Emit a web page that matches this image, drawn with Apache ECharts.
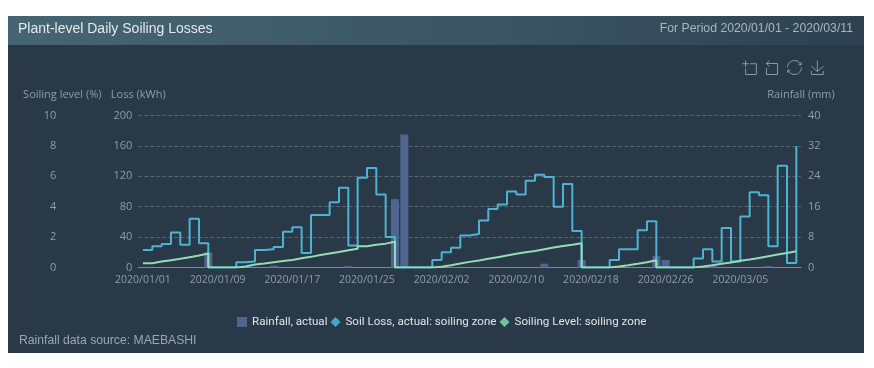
<!DOCTYPE html>
<html>
<head>
<meta charset="utf-8">
<style>
html, body { margin: 0; padding: 0; background: #fff; }
#result { width: 874px; height: 368px; }
</style>
<script src="https://cdn.jsdelivr.net/npm/echarts@6/dist/echarts.min.js"></script>
</head>
<body>
<div id="result"></div>
<script>
var dates = [
    '2020/01/01','2020/01/02','2020/01/03','2020/01/04','2020/01/05','2020/01/06','2020/01/07','2020/01/08',
    '2020/01/09','2020/01/10','2020/01/11','2020/01/12','2020/01/13','2020/01/14','2020/01/15','2020/01/16',
    '2020/01/17','2020/01/18','2020/01/19','2020/01/20','2020/01/21','2020/01/22','2020/01/23','2020/01/24',
    '2020/01/25','2020/01/26','2020/01/27','2020/01/28','2020/01/29','2020/01/30','2020/01/31','2020/02/01',
    '2020/02/02','2020/02/03','2020/02/04','2020/02/05','2020/02/06','2020/02/07','2020/02/08','2020/02/09',
    '2020/02/10','2020/02/11','2020/02/12','2020/02/13','2020/02/14','2020/02/15','2020/02/16','2020/02/17',
    '2020/02/18','2020/02/19','2020/02/20','2020/02/21','2020/02/22','2020/02/23','2020/02/24','2020/02/25',
    '2020/02/26','2020/02/27','2020/02/28','2020/02/29','2020/03/01','2020/03/02','2020/03/03','2020/03/04',
    '2020/03/05','2020/03/06','2020/03/07','2020/03/08','2020/03/09','2020/03/10','2020/03/11'
];
var rainfall = [
    0,0,0,0,0,0,0,4, 0,0,0,0,0,0,0.5,0,
    0,0,0,0,0,0,0.4,0, 0,0,0,18,35,0,0,0,
    0,0,0,0,0,0,0,0, 0,0,0,1,0,0,0,2,
    0,0,0,0,0,0,0,3, 2,0,0,0,0,0.6,0,0,
    0,0,0,0.4,0,0,0
];
var soilLoss = [
    23,28,31,46,30,64,32,0, 0,0,7,8,23,24,27,47,
    53,19,69,69,86,105,29,118, 131,96,40,0,0,0,0,10,
    20,26,42,44,62,77,83,100, 96,114,122,119,80,110,48,0,
    0,0,10,24,24,49,61,0, 0,0,0,12,24,8,52,8,
    67,99,95,28,134,6,160
];
var soilLevel = [
    0.28,0.39,0.48,0.57,0.68,0.79,0.92,0, 0,0,0.07,0.2,0.26,0.35,0.42,0.5,
    0.61,0.7,0.82,0.92,1.02,1.14,1.24,1.4, 1.49,1.57,1.7,0,0,0,0,0.05,
    0.15,0.26,0.37,0.46,0.57,0.68,0.79,0.9, 1,1.09,1.2,1.31,1.42,1.5,1.6,0,
    0,0,0.07,0.15,0.24,0.35,0.48,0, 0,0,0,0.07,0.15,0.24,0.33,0.44,
    0.52,0.63,0.74,0.85,0.96,1.07,1.11
];

var labelColor = '#8f9da6';
var labelFont = '"Open Sans", sans-serif';

var myChart = echarts.init(document.getElementById('result'));

myChart.setOption({
    animation: false,
    backgroundColor: '#fff',
    textStyle: {
        fontFamily: labelFont
    },
    graphic: [
        {
            type: 'rect',
            z: -10,
            shape: { x: 8, y: 16, width: 856, height: 337 },
            style: { fill: '#2a3947' }
        },
        {
            type: 'rect',
            z: -9,
            shape: { x: 8, y: 16, width: 856, height: 29 },
            style: {
                fill: new echarts.graphic.LinearGradient(0, 0, 1, 0, [
                    { offset: 0, color: '#466573' },
                    { offset: 0.6, color: '#395463' },
                    { offset: 1, color: '#2d4150' }
                ])
            }
        }
    ],
    title: [
        {
            text: 'Plant-level Daily Soiling Losses',
            left: 13,
            top: 17,
            textStyle: { color: '#e4eaec', fontSize: 14, fontWeight: 'normal', fontFamily: 'Liberation Sans' }
        },
        {
            text: 'For Period 2020/01/01 - 2020/03/11',
            right: 16,
            top: 18,
            textStyle: { color: '#a9b6bd', fontSize: 12.25, fontWeight: 'normal', fontFamily: 'Liberation Sans' }
        },
        {
            text: 'Rainfall data source: MAEBASHI',
            left: 14,
            top: 330,
            textStyle: { color: '#9aa7ae', fontSize: 12.2, fontWeight: 'normal', fontFamily: 'Liberation Sans' }
        }
    ],
    toolbox: {
        right: 33,
        top: 43,
        itemSize: 14,
        itemGap: 5,
        iconStyle: { borderColor: '#8a99a3' },
        feature: {
            dataZoom: { yAxisIndex: 'none' },
            restore: {},
            saveAsImage: {}
        }
    },
    legend: {
        top: 311,
        left: 232,
        itemWidth: 10,
        itemHeight: 10,
        itemGap: 3,
        textStyle: { color: '#dfe5e8', fontSize: 11.6, fontFamily: 'Roboto' },
        data: [
            { name: 'Rainfall, actual', icon: 'rect' },
            { name: 'Soil Loss, actual: soiling zone', icon: 'diamond' },
            { name: 'Soiling Level: soiling zone', icon: 'diamond' }
        ]
    },
    grid: {
        left: 138.3,
        right: 73,
        top: 115.5,
        bottom: 100.5
    },
    xAxis: [
        {
            type: 'category',
            data: dates,
            axisTick: { show: false },
            axisLine: { lineStyle: { color: '#7f8b93' } },
            axisLabel: { color: labelColor, fontSize: 10.5, interval: 7, margin: 7 }
        }
    ],
    yAxis: [
        {
            type: 'value',
            name: 'Loss (kWh)',
            nameGap: 15,
            nameTextStyle: { color: labelColor, fontSize: 11 },
            min: 0,
            max: 200,
            interval: 40,
            axisLine: { show: false },
            axisTick: { show: false },
            axisLabel: { color: labelColor, fontSize: 11, margin: 6 },
            splitLine: { lineStyle: { color: '#56646f', type: 'dashed' } }
        },
        {
            type: 'value',
            name: 'Soiling level (%)',
            nameGap: 15,
            nameTextStyle: { color: labelColor, fontSize: 11 },
            position: 'left',
            offset: 76,
            min: 0,
            max: 10,
            interval: 2,
            axisLine: { show: false },
            axisTick: { show: false },
            axisLabel: { color: labelColor, fontSize: 11, margin: 6 },
            splitLine: { show: false }
        },
        {
            type: 'value',
            name: 'Rainfall (mm)',
            nameGap: 15,
            nameTextStyle: { color: labelColor, fontSize: 11 },
            position: 'right',
            min: 0,
            max: 40,
            interval: 8,
            axisLine: { show: false },
            axisTick: { show: false },
            axisLabel: { color: labelColor, fontSize: 11, margin: 7 },
            splitLine: { show: false }
        }
    ],
    series: [
        {
            name: 'Rainfall, actual',
            type: 'bar',
            yAxisIndex: 2,
            barWidth: 8,
            itemStyle: { color: '#4f648f' },
            data: rainfall
        },
        {
            name: 'Soil Loss, actual: soiling zone',
            type: 'line',
            yAxisIndex: 0,
            step: 'end',
            showSymbol: false,
            itemStyle: { color: '#3fa9c9' },
            lineStyle: { color: '#4cb4d2', width: 2 },
            data: soilLoss
        },
        {
            name: 'Soiling Level: soiling zone',
            type: 'line',
            yAxisIndex: 1,
            step: 'end',
            showSymbol: false,
            itemStyle: { color: '#6fc3a0' },
            lineStyle: { color: '#93dcb6', width: 2 },
            data: soilLevel
        }
    ]
});
</script>
</body>
</html>
